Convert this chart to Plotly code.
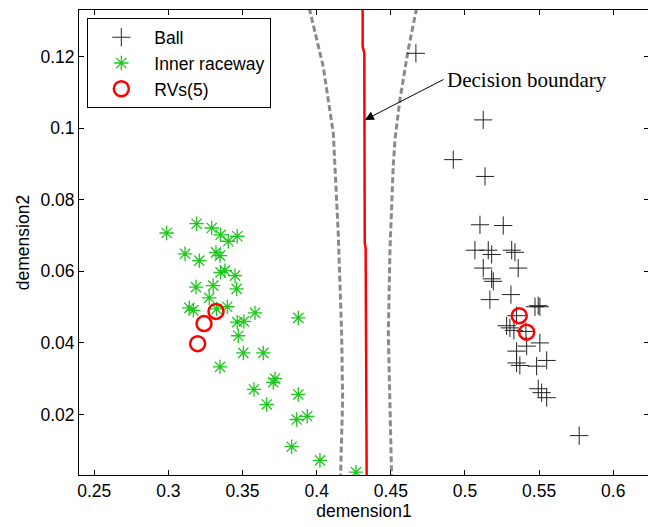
import plotly.graph_objects as go

# Ball class (black plus)
ball_x = [0.4669, 0.5123, 0.4921, 0.5135,
          0.5101, 0.5258, 0.5067, 0.5157, 0.5180, 0.5315, 0.5337, 0.5123, 0.5359,
          0.5180, 0.5191, 0.5168, 0.5310, 0.5472, 0.5494, 0.5505, 0.5348, 0.5281,
          0.5303, 0.5330, 0.5411, 0.5505, 0.5416, 0.5348, 0.5551, 0.5348, 0.5370,
          0.5483, 0.5494, 0.5517, 0.5551, 0.5770]
ball_y = [0.1209, 0.1023, 0.0912, 0.0865,
          0.0730, 0.0728, 0.0659, 0.0659, 0.0647, 0.0659, 0.0653, 0.0609, 0.0609,
          0.0579, 0.0572, 0.0521, 0.0535, 0.0501, 0.0504, 0.0501, 0.0476, 0.0448,
          0.0442, 0.0435, 0.0432, 0.0400, 0.0391, 0.0377, 0.0351, 0.0344, 0.0337,
          0.0335, 0.0272, 0.0261, 0.0247, 0.0141]

# Inner raceway class (green stars)
inner_x = [0.2988, 0.3190, 0.3292, 0.3352, 0.3404, 0.3464, 0.3112, 0.3208, 0.3321,
           0.3348, 0.3352, 0.3381, 0.3449, 0.3186, 0.3302, 0.3460, 0.3275, 0.3141,
           0.3168, 0.3325, 0.3397, 0.3584, 0.3876, 0.3464, 0.3509, 0.3471, 0.3505,
           0.3640, 0.3348, 0.3719, 0.3707, 0.3577, 0.3876, 0.3663, 0.3865, 0.3936,
           0.3831, 0.4022, 0.4265]
inner_y = [0.0707, 0.0733, 0.0721, 0.0702, 0.0684, 0.0698, 0.0649, 0.0630, 0.0653,
           0.0644, 0.0597, 0.0602, 0.0588, 0.0556, 0.0560, 0.0551, 0.0526, 0.0498,
           0.0491, 0.0495, 0.0501, 0.0484, 0.0470, 0.0458, 0.0460, 0.0420, 0.0372,
           0.0372, 0.0333, 0.0300, 0.0290, 0.0270, 0.0256, 0.0228, 0.0186, 0.0195,
           0.0110, 0.0072, 0.0039]

# Relevance vectors (red circles)
rv_x = [0.3321, 0.3240, 0.3197, 0.5366, 0.5416]
rv_y = [0.0488, 0.0454, 0.0398, 0.0476, 0.0430]

# Decision boundary (red) and margins (grey dashed)
db_x = [0.4310, 0.4310, 0.4321, 0.4324, 0.4330, 0.4334, 0.4337]
db_y = [0.1335, 0.1228, 0.1210, 0.0680, 0.0665, 0.0090, 0.0030]
ml_x = [0.3950, 0.4044, 0.4112, 0.4145, 0.4168, 0.4175, 0.4161]
ml_y = [0.1335, 0.1172, 0.0986, 0.0708, 0.0429, 0.0242, 0.0030]
mr_x = [0.4674, 0.4617, 0.4561, 0.4528, 0.4516, 0.4494, 0.4483, 0.4494, 0.4505]
mr_y = [0.1335, 0.1219, 0.1079, 0.0968, 0.0893, 0.0660, 0.0428, 0.0242, 0.0030]

x_ticks = [0.25, 0.3, 0.35, 0.4, 0.45, 0.5, 0.55, 0.6]
y_ticks = [0.02, 0.04, 0.06, 0.08, 0.1, 0.12]

FONT = "Liberation Sans, Arial, sans-serif"
FS = 17.5

fig = go.Figure()
fig.add_trace(go.Scatter(x=ml_x, y=ml_y, mode="lines", showlegend=False,
                         line=dict(color="#8a8a8a", width=3, dash="6px,3px")))
fig.add_trace(go.Scatter(x=mr_x, y=mr_y, mode="lines", showlegend=False,
                         line=dict(color="#8a8a8a", width=3, dash="6px,3px")))
fig.add_trace(go.Scatter(x=db_x, y=db_y, mode="lines", showlegend=False,
                         line=dict(color="#ff0000", width=2.5)))
fig.add_trace(go.Scatter(x=ball_x, y=ball_y, mode="markers", name="Ball",
                         marker=dict(symbol="cross-thin", size=13, color="black",
                                     line=dict(color="#222222", width=1))))
fig.add_trace(go.Scatter(x=inner_x, y=inner_y, mode="markers", name="Inner raceway",
                         marker=dict(symbol="asterisk-open", size=12, color="#1ec81e",
                                     line=dict(color="#1ec81e", width=1.3))))
fig.add_trace(go.Scatter(x=rv_x, y=rv_y, mode="markers", name="RVs(5)",
                         marker=dict(symbol="circle-open", size=15, color="#ff0000",
                                     line=dict(color="#ff0000", width=2.5))))

fig.add_annotation(x=0.4325, y=0.1023, ax=0.4865, ay=0.1138, axref="x", ayref="y",
                   xref="x", yref="y", text="", showarrow=True, arrowhead=2,
                   arrowsize=1.8, arrowwidth=1, arrowcolor="black")
fig.add_annotation(x=0.4868, y=0.1135, xref="x", yref="y", text="Decision boundary",
                   showarrow=False, xanchor="left", yanchor="middle",
                   font=dict(family="Liberation Serif, Times New Roman, serif",
                             size=21, color="black"))

axis_common = dict(showline=True, linecolor="black", linewidth=1, mirror="ticks",
                   ticks="inside", ticklen=5, tickcolor="black", showgrid=False,
                   zeroline=False, automargin=False,
                   tickfont=dict(family=FONT, size=FS, color="black"))
fig.update_xaxes(range=[0.2397, 0.6241], tickvals=x_ticks,
                 ticktext=[f"{v:g}" for v in x_ticks],
                 title=dict(text="demension1", font=dict(family=FONT, size=FS, color="black"),
                            standoff=2), **axis_common)
fig.update_yaxes(range=[0.0031, 0.1330], tickvals=y_ticks,
                 ticktext=[f"{v:g}" for v in y_ticks],
                 title=dict(text="demension2", font=dict(family=FONT, size=FS, color="black"),
                            standoff=6), **axis_common)

# The page body adds an 8px margin, so the figure is sized/offset to compensate.
fig.update_layout(
    width=648, height=519,
    margin=dict(l=71, r=7, t=2, b=51.5),
    paper_bgcolor="white", plot_bgcolor="white",
    font=dict(family=FONT, size=FS, color="black"),
    legend=dict(x=0.0146, y=0.982, xanchor="left", yanchor="top",
                bgcolor="white", bordercolor="black", borderwidth=1,
                font=dict(family=FONT, size=FS, color="black"),
                itemwidth=56, tracegroupgap=0),
)

fig.write_html("out.html")
